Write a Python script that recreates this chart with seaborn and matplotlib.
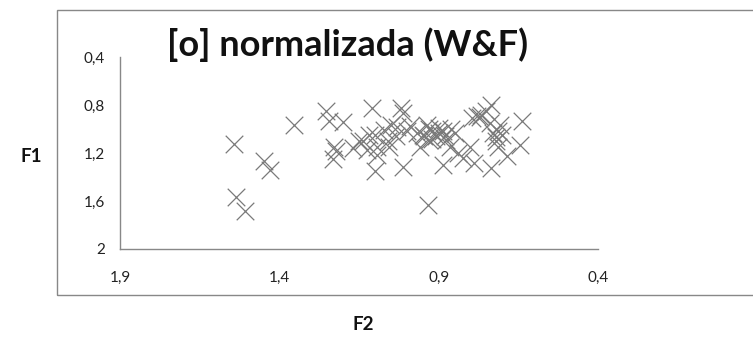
import matplotlib
matplotlib.use("Agg")
import matplotlib.pyplot as plt
import seaborn as sns
import pandas as pd
from matplotlib.patches import Rectangle

# F2 (x) and F1 (y) values
f2 = [1.542, 1.537, 1.509, 1.448, 1.430, 1.355, 1.254, 1.243, 1.201, 1.228,
      1.221, 1.233, 1.169, 1.139, 1.124, 1.109, 1.101, 1.094, 1.094, 1.099,
      1.072, 1.049, 1.057, 1.034, 1.019, 1.012, 1.012, 0.990, 0.967, 0.960,
      0.945, 0.937, 0.930, 0.922, 0.933, 0.907, 0.900, 0.885, 0.878, 0.885,
      0.863, 0.848, 0.840, 0.825, 0.803, 0.788, 0.796, 0.781, 0.766, 0.736,
      0.751, 0.736, 0.728, 0.721, 0.713, 0.706, 0.713, 0.684, 0.646, 0.639,
      0.950, 0.920, 0.900, 0.880, 0.930, 0.860, 1.000, 1.030, 1.060, 1.120,
      1.150, 0.740, 0.720, 0.700, 0.770]
f1 = [1.123, 1.563, 1.680, 1.265, 1.340, 0.965, 0.853, 0.937, 0.945, 1.146,
      1.187, 1.251, 1.160, 1.104, 1.174, 0.826, 1.048, 1.146, 1.215, 1.354,
      1.007, 0.965, 1.146, 1.062, 0.826, 0.867, 1.313, 0.979, 1.034, 1.146,
      1.062, 0.965, 1.090, 1.020, 1.633, 1.062, 0.993, 1.020, 1.090, 1.299,
      1.146, 1.034, 1.200, 1.243, 1.146, 1.285, 0.909, 0.895, 0.881, 0.798,
      0.853, 1.327, 1.034, 1.104, 1.020, 0.965, 1.146, 1.229, 1.132, 0.937,
      1.050, 1.080, 1.030, 1.060, 1.000, 1.000, 1.020, 0.980, 1.100, 1.050,
      1.100, 0.950, 1.070, 1.050, 0.900]

x_ticks = [1.9, 1.4, 0.9, 0.4]
y_ticks = [0.4, 0.8, 1.2, 1.6, 2.0]
x_labels = ["1,9", "1,4", "0,9", "0,4"]
y_labels = ["0,4", "0,8", "1,2", "1,6", "2"]
title = "[o] normalizada (W&F)"

df = pd.DataFrame({"F2": f2, "F1": f1})

sns.set_theme(style="white")
plt.rcParams["font.family"] = ["Lato", "DejaVu Sans"]

fig = plt.figure(figsize=(7.53, 3.38), dpi=100)
ax = fig.add_axes([120/753, 1-249/338, (598-120)/753, (249-57)/338])

sns.scatterplot(data=df, x="F2", y="F1", marker="x", s=160, color="#7a7a7a",
                linewidth=0.9, ax=ax, legend=False)

ax.set_xlim(1.9, 0.4)
ax.set_ylim(2.0, 0.4)
ax.set_xticks(x_ticks)
ax.set_xticklabels(x_labels)
ax.set_yticks(y_ticks)
ax.set_yticklabels(y_labels)
ax.set_xlabel("")
ax.set_ylabel("")

for s in ["top", "right"]:
    ax.spines[s].set_visible(False)
for s in ["left", "bottom"]:
    ax.spines[s].set_color("#888888")
    ax.spines[s].set_linewidth(1.0)

ax.tick_params(axis="x", direction="in", length=5, width=1, color="#888888",
               pad=16, labelsize=11, labelcolor="#222222")
ax.tick_params(axis="y", direction="out", length=5, width=1, color="#888888",
               pad=6, labelsize=11, labelcolor="#222222")

fig.text(348/753, 1-45/338, title, ha="center", va="center", fontsize=26,
         fontweight="bold", color="#111111")
fig.text(31/753, 1-157/338, "F1", ha="center", va="center", fontsize=13.5,
         fontweight="bold", color="#111111")
fig.text(363/753, 1-325/338, "F2", ha="center", va="center", fontsize=13.5,
         fontweight="bold", color="#111111")

fig.patches.append(Rectangle((57/753, 1-295/338), 1.0, 285/338,
                             transform=fig.transFigure, fill=False,
                             edgecolor="#888888", linewidth=1.0))

fig.savefig("out.png", dpi=100)
